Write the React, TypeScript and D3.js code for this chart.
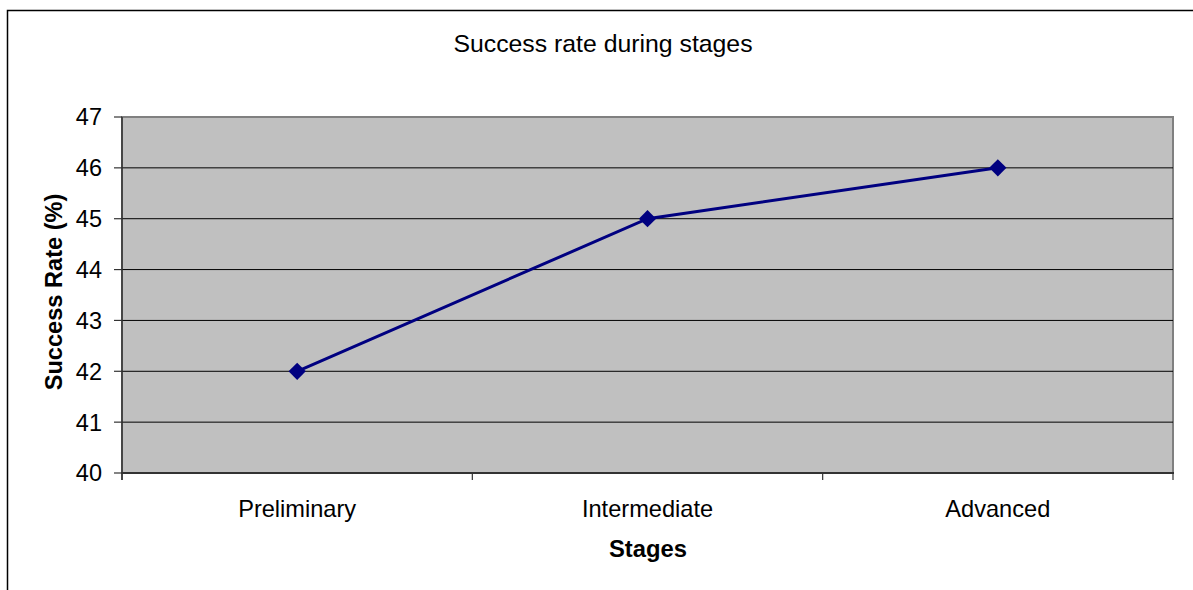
import React from "react";
import * as d3 from "d3";

const categories = ["Preliminary", "Intermediate", "Advanced"];
const successRates = [42, 45, 46];
const yTicks = [40, 41, 42, 43, 44, 45, 46, 47];
const title = "Success rate during stages";
const xTitle = "Stages";
const yTitle = "Success Rate (%)";

const W = 1193;
const H = 590;
const plot = { left: 122, right: 1173, top: 117, bottom: 473 };
const FONT = "'Liberation Sans', Arial, sans-serif";

export default function App() {
  const x = d3
    .scaleBand<string>()
    .domain(categories)
    .range([plot.left, plot.right])
    .paddingInner(0)
    .paddingOuter(0);
  const y = d3.scaleLinear().domain([40, 47]).range([plot.bottom, plot.top]);

  const pts = categories.map((c, i) => [x(c)! + x.bandwidth() / 2, y(successRates[i])] as [number, number]);
  const line = d3.line()(pts) || "";
  const boundaries = [...categories.map((c) => x(c)!), plot.right];
  const diamond = d3.symbol().type(d3.symbolDiamond2).size(190)() || "";

  return (
    <svg
      width={W}
      height={H}
      style={{ position: "absolute", left: 0, top: 0, background: "#fff" }}
      fontFamily={FONT}
    >
      <rect x={7.5} y={10.5} width={1300} height={700} fill="#fff" stroke="#000" strokeWidth={1.5} />
      <text x={603} y={52} textAnchor="middle" fontSize={24.8} fill="#000">
        {title}
      </text>
      <rect
        x={plot.left}
        y={plot.top}
        width={plot.right - plot.left}
        height={plot.bottom - plot.top}
        fill="#C0C0C0"
        stroke="#808080"
        strokeWidth={2}
      />
      {yTicks.slice(1, -1).map((t) => (
        <line key={t} x1={plot.left} x2={plot.right} y1={y(t)} y2={y(t)} stroke="#000" strokeWidth={1} />
      ))}
      <line x1={plot.left} x2={plot.left} y1={plot.top} y2={plot.bottom + 7} stroke="#333" strokeWidth={1.5} />
      <line x1={plot.left - 1} x2={plot.right + 1} y1={plot.bottom} y2={plot.bottom} stroke="#333" strokeWidth={2} />
      {yTicks.map((t) => (
        <g key={t}>
          <line x1={plot.left - 8} x2={plot.left} y1={y(t)} y2={y(t)} stroke="#333" strokeWidth={1.2} />
          <text x={102} y={y(t)} dy="0.36em" textAnchor="end" fontSize={23.5} fill="#000">
            {t}
          </text>
        </g>
      ))}
      {boundaries.map((b, i) => (
        <line key={i} x1={b} x2={b} y1={plot.bottom} y2={plot.bottom + 7} stroke="#333" strokeWidth={1.2} />
      ))}
      {categories.map((c) => (
        <text key={c} x={x(c)! + x.bandwidth() / 2} y={517} textAnchor="middle" fontSize={23.6} fill="#000">
          {c}
        </text>
      ))}
      <text x={648} y={557} textAnchor="middle" fontSize={23.8} fontWeight="bold" fill="#000">
        {xTitle}
      </text>
      <text
        transform={`translate(62,292) rotate(-90)`}
        textAnchor="middle"
        fontSize={23.6}
        fontWeight="bold"
        fill="#000"
      >
        {yTitle}
      </text>
      <path d={line} fill="none" stroke="#000080" strokeWidth={3} />
      {pts.map((p, i) => (
        <path key={i} d={diamond} transform={`translate(${p[0]},${p[1]})`} fill="#000080" />
      ))}
    </svg>
  );
}
